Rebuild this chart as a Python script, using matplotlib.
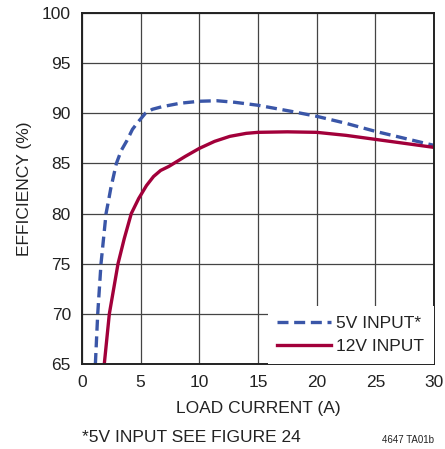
import matplotlib
matplotlib.use("Agg")
import matplotlib.pyplot as plt

plt.rcParams['font.family'] = ['Liberation Sans Narrow', 'Liberation Sans', 'DejaVu Sans']

# 5V input (dashed blue)
i_5v = [1.14, 1.34, 1.62, 2.05, 2.27, 2.45, 2.93, 3.35, 3.84, 4.3, 4.83, 5.4, 6.0, 6.8,
        8.35, 10.0, 11.5, 13.0, 15.0, 17.8, 20.0, 22.5, 25.0, 27.5, 30.0]
eff_5v = [65.0, 70.0, 75.0, 80.0, 81.35, 82.5, 85.0, 86.3, 87.3, 88.4, 89.2, 90.0, 90.4, 90.65,
          91.0, 91.2, 91.25, 91.1, 90.8, 90.2, 89.7, 89.0, 88.2, 87.5, 86.8]

# 12V input (solid red)
i_12v = [1.9, 2.33, 3.07, 3.6, 4.2, 4.83, 5.5, 6.1, 6.7, 7.4, 8.1, 8.8, 10.0, 11.3,
         12.6, 14.0, 15.0, 17.5, 20.0, 22.5, 25.0, 27.5, 30.0]
eff_12v = [65.0, 70.0, 75.0, 77.5, 80.0, 81.5, 82.8, 83.7, 84.3, 84.7, 85.2, 85.7, 86.5, 87.2,
           87.7, 88.0, 88.1, 88.15, 88.1, 87.8, 87.4, 87.0, 86.6]

x_ticks = [0, 5, 10, 15, 20, 25, 30]
y_ticks = [65, 70, 75, 80, 85, 90, 95, 100]

fig = plt.figure(figsize=(4.45, 4.49), dpi=100)
ax = fig.add_axes([82 / 445, 85 / 449, 352 / 445, 351 / 449])

ax.plot(i_5v, eff_5v, color='#3a56a8', lw=2.4, linestyle=(0, (3.3, 1.7)),
        label='5V INPUT*', dash_capstyle='butt', dash_joinstyle='round')
ax.plot(i_12v, eff_12v, color='#a2003a', lw=2.4, label='12V INPUT',
        solid_joinstyle='round')

ax.set_xlim(0, 30)
ax.set_ylim(65, 100)
ax.set_xticks(x_ticks)
ax.set_yticks(y_ticks)
ax.tick_params(length=0, labelsize=12.5, pad=8, colors='#222222')
ax.grid(True, color='#444444', lw=0.9)
for s in ax.spines.values():
    s.set_linewidth(1.4)
    s.set_color('#222222')

ax.set_xlabel('LOAD CURRENT (A)', fontsize=12.5, color='#222222', labelpad=8)
ax.set_ylabel('EFFICIENCY (%)', fontsize=12.5, color='#222222', labelpad=7)

leg = ax.legend(loc='lower right', fontsize=12.5, frameon=True, fancybox=False,
                borderaxespad=0, borderpad=0.55, handlelength=3.1, handletextpad=0.3,
                labelspacing=0.47)
leg.get_frame().set_facecolor('white')
leg.get_frame().set_edgecolor('none')
leg.get_frame().set_alpha(1)
for t in leg.get_texts():
    t.set_color('#222222')

fig.text(82 / 445, 1 - 438 / 449, '*5V INPUT SEE FIGURE 24', fontsize=12.5,
         color='#222222', va='center', ha='left')
fig.text(434 / 445, 1 - 440 / 449, '4647 TA01b', fontsize=7,
         color='#222222', va='center', ha='right')

fig.savefig('out.png', dpi=100)
